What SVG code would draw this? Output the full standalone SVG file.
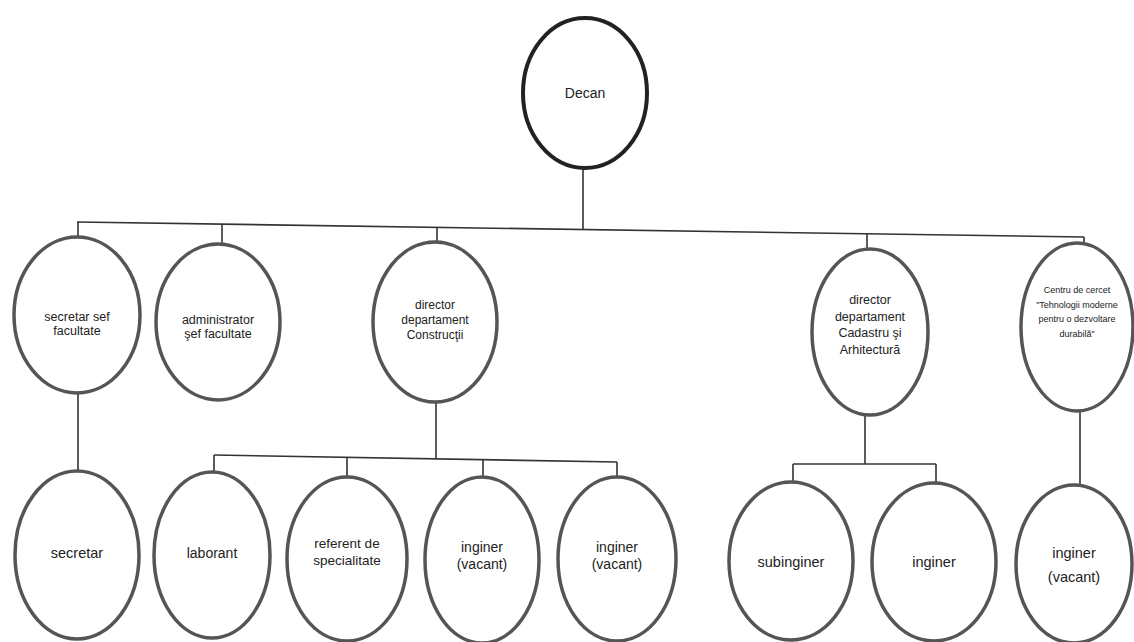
<svg xmlns="http://www.w3.org/2000/svg" width="1134" height="642" viewBox="0 0 1134 642">
<style>
.n{fill:#fff;stroke:#555;stroke-width:3.5}
.top{fill:#fff;stroke:#222;stroke-width:4}
.t{font-family:"Liberation Sans",Arial,sans-serif;fill:#222;text-anchor:middle}
.c line,.c polyline{stroke:#333;stroke-width:1.6;fill:none}
</style>
<rect width="1134" height="642" fill="#fff"/>
<g class="c" id="connectors">
<line x1="583" y1="168" x2="583" y2="229"/>
<line x1="77" y1="222" x2="1084" y2="237"/>
<line x1="78" y1="222" x2="78" y2="238"/>
<line x1="222" y1="224" x2="222" y2="245"/>
<line x1="437" y1="227" x2="437" y2="243"/>
<line x1="867" y1="233" x2="867" y2="250"/>
<line x1="1084" y1="237" x2="1084" y2="245"/>
<line x1="78" y1="393" x2="78" y2="470"/>
<line x1="436" y1="402" x2="436" y2="458"/>
<line x1="214" y1="455" x2="617" y2="462"/>
<line x1="214" y1="455" x2="214" y2="472"/>
<line x1="347" y1="457" x2="347" y2="477"/>
<line x1="483" y1="460" x2="483" y2="477"/>
<line x1="617" y1="462" x2="617" y2="478"/>
<line x1="865" y1="415" x2="865" y2="464"/>
<line x1="793" y1="464" x2="936" y2="464"/>
<line x1="793" y1="464" x2="793" y2="482"/>
<line x1="936" y1="464" x2="936" y2="483"/>
<line x1="1080" y1="410" x2="1080" y2="485"/>
</g>
<g id="decan"><ellipse class="top" cx="585" cy="93" rx="62" ry="75"/><text class="t" x="585" y="98" font-size="14">Decan</text></g>
<g id="secretar-sef"><ellipse class="n" cx="77" cy="315" rx="63" ry="78"/><text class="t" font-size="12.5"><tspan x="77" y="321">secretar sef</tspan><tspan x="77" y="335">facultate</tspan></text></g>
<g id="administrator"><ellipse class="n" cx="218" cy="322" rx="62" ry="78"/><text class="t" font-size="12.5"><tspan x="218" y="324">administrator</tspan><tspan x="218" y="338">şef facultate</tspan></text></g>
<g id="director-constructii"><ellipse class="n" cx="435" cy="322" rx="62" ry="80"/><text class="t" font-size="12"><tspan x="435" y="309">director</tspan><tspan x="435" y="324">departament</tspan><tspan x="435" y="339">Construcţii</tspan></text></g>
<g id="director-cadastru"><ellipse class="n" cx="870" cy="332" rx="58" ry="83"/><text class="t" font-size="12.5"><tspan x="870" y="304">director</tspan><tspan x="870" y="321">departament</tspan><tspan x="870" y="337">Cadastru şi</tspan><tspan x="870" y="354">Arhitectură</tspan></text></g>
<g id="centru"><ellipse class="n" cx="1077" cy="327" rx="56" ry="84"/><text class="t" font-size="9"><tspan x="1077" y="293">Centru de cercet</tspan><tspan x="1077" y="308">"Tehnologii moderne</tspan><tspan x="1077" y="322">pentru o dezvoltare</tspan><tspan x="1077" y="337">durabilă"</tspan></text></g>
<g id="secretar"><ellipse class="n" cx="77" cy="555" rx="62" ry="84"/><text class="t" x="77" y="558" font-size="14.5">secretar</text></g>
<g id="laborant"><ellipse class="n" cx="212" cy="555" rx="58" ry="83"/><text class="t" x="212" y="558" font-size="14">laborant</text></g>
<g id="referent"><ellipse class="n" cx="347" cy="559" rx="60" ry="82"/><text class="t" font-size="13.5"><tspan x="347" y="548">referent de</tspan><tspan x="347" y="565">specialitate</tspan></text></g>
<g id="inginer-vacant-1"><ellipse class="n" cx="482" cy="560" rx="57" ry="83"/><text class="t" font-size="14"><tspan x="482" y="552">inginer</tspan><tspan x="482" y="569">(vacant)</tspan></text></g>
<g id="inginer-vacant-2"><ellipse class="n" cx="617" cy="559" rx="59" ry="82"/><text class="t" font-size="14"><tspan x="617" y="552">inginer</tspan><tspan x="617" y="569">(vacant)</tspan></text></g>
<g id="subinginer"><ellipse class="n" cx="791" cy="561" rx="62" ry="79"/><text class="t" x="791" y="567" font-size="14.5">subinginer</text></g>
<g id="inginer"><ellipse class="n" cx="934" cy="562" rx="62" ry="79"/><text class="t" x="934" y="567" font-size="14.5">inginer</text></g>
<g id="inginer-vacant-3"><ellipse class="n" cx="1074" cy="564" rx="58" ry="79"/><text class="t" font-size="14.5"><tspan x="1074" y="558">inginer</tspan><tspan x="1074" y="582">(vacant)</tspan></text></g>
</svg>
